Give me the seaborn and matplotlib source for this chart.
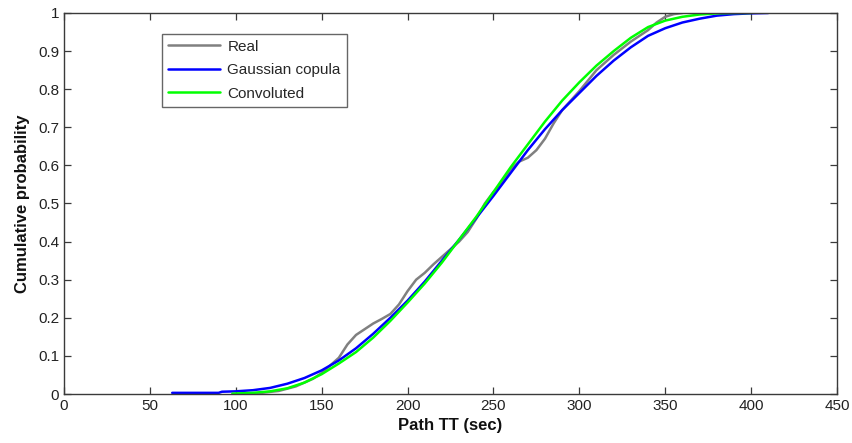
import numpy as np
import pandas as pd
import matplotlib
matplotlib.use("Agg")
import matplotlib.pyplot as plt
import seaborn as sns

# --- Data (path travel time CDFs) ---
real_x = [100, 115, 125, 135, 145, 150, 155, 160, 165, 170, 175, 180, 185, 190, 195,
          200, 205, 210, 215, 220, 225, 230, 235, 240, 245, 250, 255, 260, 265, 270,
          275, 280, 285, 290, 295, 300, 310, 320, 330, 340, 345, 350, 355, 360]
real_y = [0.0, 0.003, 0.008, 0.02, 0.04, 0.055, 0.075, 0.095, 0.13, 0.155, 0.17, 0.185,
          0.197, 0.21, 0.235, 0.27, 0.3, 0.318, 0.34, 0.36, 0.38, 0.40, 0.425, 0.46, 0.50,
          0.53, 0.555, 0.59, 0.61, 0.62, 0.64, 0.67, 0.71, 0.745, 0.77, 0.795, 0.85, 0.89,
          0.925, 0.955, 0.975, 0.99, 0.997, 1.0]

gauss_x = [63, 90, 92, 100, 110, 120, 130, 140, 150, 160, 170, 180, 190, 200, 210, 220,
           230, 240, 250, 260, 270, 280, 290, 300, 310, 320, 330, 340, 350, 360, 370, 380,
           390, 400, 410]
gauss_y = [0.003, 0.003, 0.006, 0.007, 0.01, 0.016, 0.027, 0.042, 0.062, 0.088, 0.12,
           0.158, 0.2, 0.245, 0.295, 0.35, 0.405, 0.462, 0.52, 0.58, 0.64, 0.695, 0.745,
           0.79, 0.835, 0.875, 0.91, 0.94, 0.96, 0.975, 0.985, 0.993, 0.997, 0.999, 1.0]

conv_x = [98, 110, 120, 130, 140, 150, 160, 170, 180, 190, 200, 210, 220, 230, 240, 250,
          260, 270, 280, 290, 300, 310, 320, 330, 340, 350, 360, 370, 380, 390, 400]
conv_y = [0.001, 0.003, 0.007, 0.015, 0.03, 0.052, 0.08, 0.11, 0.148, 0.192, 0.24, 0.29,
          0.345, 0.405, 0.465, 0.53, 0.595, 0.655, 0.715, 0.77, 0.818, 0.862, 0.9, 0.935,
          0.963, 0.98, 0.99, 0.996, 0.999, 1.0, 1.0]

x_ticks = [0, 50, 100, 150, 200, 250, 300, 350, 400, 450]
y_ticks = [0, 0.1, 0.2, 0.3, 0.4, 0.5, 0.6, 0.7, 0.8, 0.9, 1]
y_tick_labels = ["0", "0.1", "0.2", "0.3", "0.4", "0.5", "0.6", "0.7", "0.8", "0.9", "1"]

df = pd.concat([
    pd.DataFrame({"tt": real_x, "p": real_y, "series": "Real"}),
    pd.DataFrame({"tt": gauss_x, "p": gauss_y, "series": "Gaussian copula"}),
    pd.DataFrame({"tt": conv_x, "p": conv_y, "series": "Convoluted"}),
])

sns.set_style("white")
plt.rcParams["font.family"] = ["Liberation Sans", "DejaVu Sans"]
axis_col = "#3a3a3a"

fig = plt.figure(figsize=(8.52, 4.43), dpi=100)
ax = fig.add_axes([0.0751, 0.1106, 0.9073, 0.8601])

palette = {"Real": "#808080", "Gaussian copula": "#0000ff", "Convoluted": "#00ff00"}
sns.lineplot(data=df, x="tt", y="p", hue="series", palette=palette,
             estimator=None, sort=False, linewidth=1.8, ax=ax)

ax.set_xlim(0, 450)
ax.set_ylim(0, 1)
ax.set_xticks(x_ticks)
ax.set_yticks(y_ticks)
ax.set_yticklabels(y_tick_labels)
ax.tick_params(direction="in", length=5, width=0.9, colors=axis_col,
               labelcolor="#222222", labelsize=11, top=True, right=True,
               bottom=True, left=True)
for s in ax.spines.values():
    s.set_color(axis_col)
    s.set_linewidth(1.0)
    s.set_visible(True)

ax.set_xlabel("Path TT (sec)", fontsize=12, fontweight="bold", color="#111111", labelpad=4)
ax.set_ylabel("Cumulative probability", fontsize=12, fontweight="bold", color="#111111", labelpad=6)

leg = ax.legend(loc="upper left", bbox_to_anchor=(0.1264, 0.946), fontsize=11,
                frameon=True, fancybox=False, handlelength=3.4, borderpad=0.4,
                labelspacing=0.62, handletextpad=0.5, borderaxespad=0)
leg.get_frame().set_edgecolor("#404040")
leg.get_frame().set_linewidth(1.0)
for line in leg.get_lines():
    line.set_linewidth(1.8)

fig.savefig("out.png", dpi=100)
